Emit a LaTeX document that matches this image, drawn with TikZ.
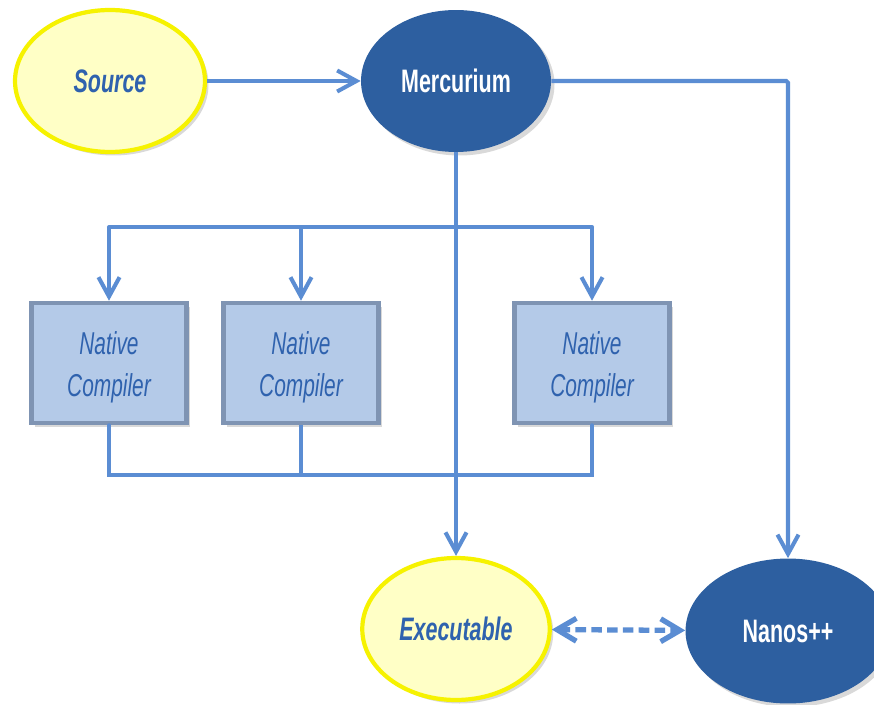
\documentclass[tikz,border=0pt]{standalone}
\usepackage{fontspec}
\setmainfont[FakeStretch=0.66]{Liberation Sans}
\usetikzlibrary{shapes.geometric,arrows.meta,shadows}

\definecolor{linkblue}{HTML}{5B8DD3}
\definecolor{darkfill}{HTML}{2D5FA0}
\definecolor{paleyellow}{HTML}{FFFFC6}
\definecolor{rimyellow}{HTML}{F6F200}
\definecolor{boxfill}{HTML}{B4CAE8}
\definecolor{boxrim}{HTML}{7F94B3}
\definecolor{labelblue}{HTML}{2F62AE}

\tikzset{
  shade/.style={drop shadow={opacity=.3,shadow xshift=2pt,shadow yshift=-2pt}},
  inputnode/.style={ellipse,draw=rimyellow,line width=2.4pt,fill=paleyellow,shade,
    inner sep=0pt,text=labelblue,font=\fontsize{18.5}{24}\selectfont\bfseries\itshape},
  toolnode/.style={ellipse,fill=darkfill,shade,inner sep=0pt,text=white,
    font=\fontsize{18.5}{24}\selectfont\bfseries},
  compbox/.style={rectangle,draw=boxrim,line width=2.6pt,fill=boxfill,shade,
    minimum width=3.1cm,minimum height=2.4cm,align=center,text=labelblue,
    font=\fontsize{18}{24}\selectfont\itshape},
  flow/.style={draw=linkblue,line width=2.3pt,
    -{Straight Barb[length=11pt,width=12pt,line width=2.3pt]}},
  bus/.style={draw=linkblue,line width=2.3pt}
}

\begin{document}
\begin{tikzpicture}[x=0.02cm,y=-0.02cm]
  \useasboundingbox (0,0) rectangle (874,705);

  \node [inputnode,minimum width=3.8cm,minimum height=2.84cm] (src) at (110,81) {Source};
  \node [toolnode,minimum width=3.8cm,minimum height=2.84cm] (merc) at (456,81) {Mercurium};
  \node [inputnode,minimum width=3.75cm,minimum height=2.84cm] (exe) at (456,629) {Executable};
  \node [toolnode,minimum width=4.1cm,minimum height=2.9cm] (nanos) at (788,631) {Nanos++};

  \node [compbox] (nc1) at (109,363) {\\[-6pt]Native\\Compiler};
  \node [compbox] (nc2) at (301,363) {\\[-6pt]Native\\Compiler};
  \node [compbox] (nc3) at (592,363) {\\[-6pt]Native\\Compiler};

  \coordinate (top bus) at (0,227);
  \coordinate (low bus) at (0,475);

  % fan-out to the native compilers
  \draw [bus,line cap=round] (nc1.north |- top bus) -- (nc3.north |- top bus);
  \foreach \c in {nc1,nc2,nc3}
    \draw [flow] (\c.north |- top bus) -- (\c.north);

  % fan-in below
  \draw [bus,line cap=round] (nc1.south) -- (nc1.south |- low bus) -| (nc3.south);
  \draw [bus] (nc2.south) -- (nc2.south |- low bus);

  \draw [flow] (src) -- (merc);
  \draw [flow] (merc.south) -- (exe.north);
  \draw [flow,rounded corners=1pt] (merc.east) -| (nanos.north);
  \draw [flow,line width=3pt,dash pattern=on 6pt off 3pt,
    {Straight Barb[length=11pt,width=13pt,line width=3pt]}-{Straight Barb[length=11pt,width=13pt,line width=3pt]}]
    (exe) -- (nanos);
\end{tikzpicture}
\end{document}
